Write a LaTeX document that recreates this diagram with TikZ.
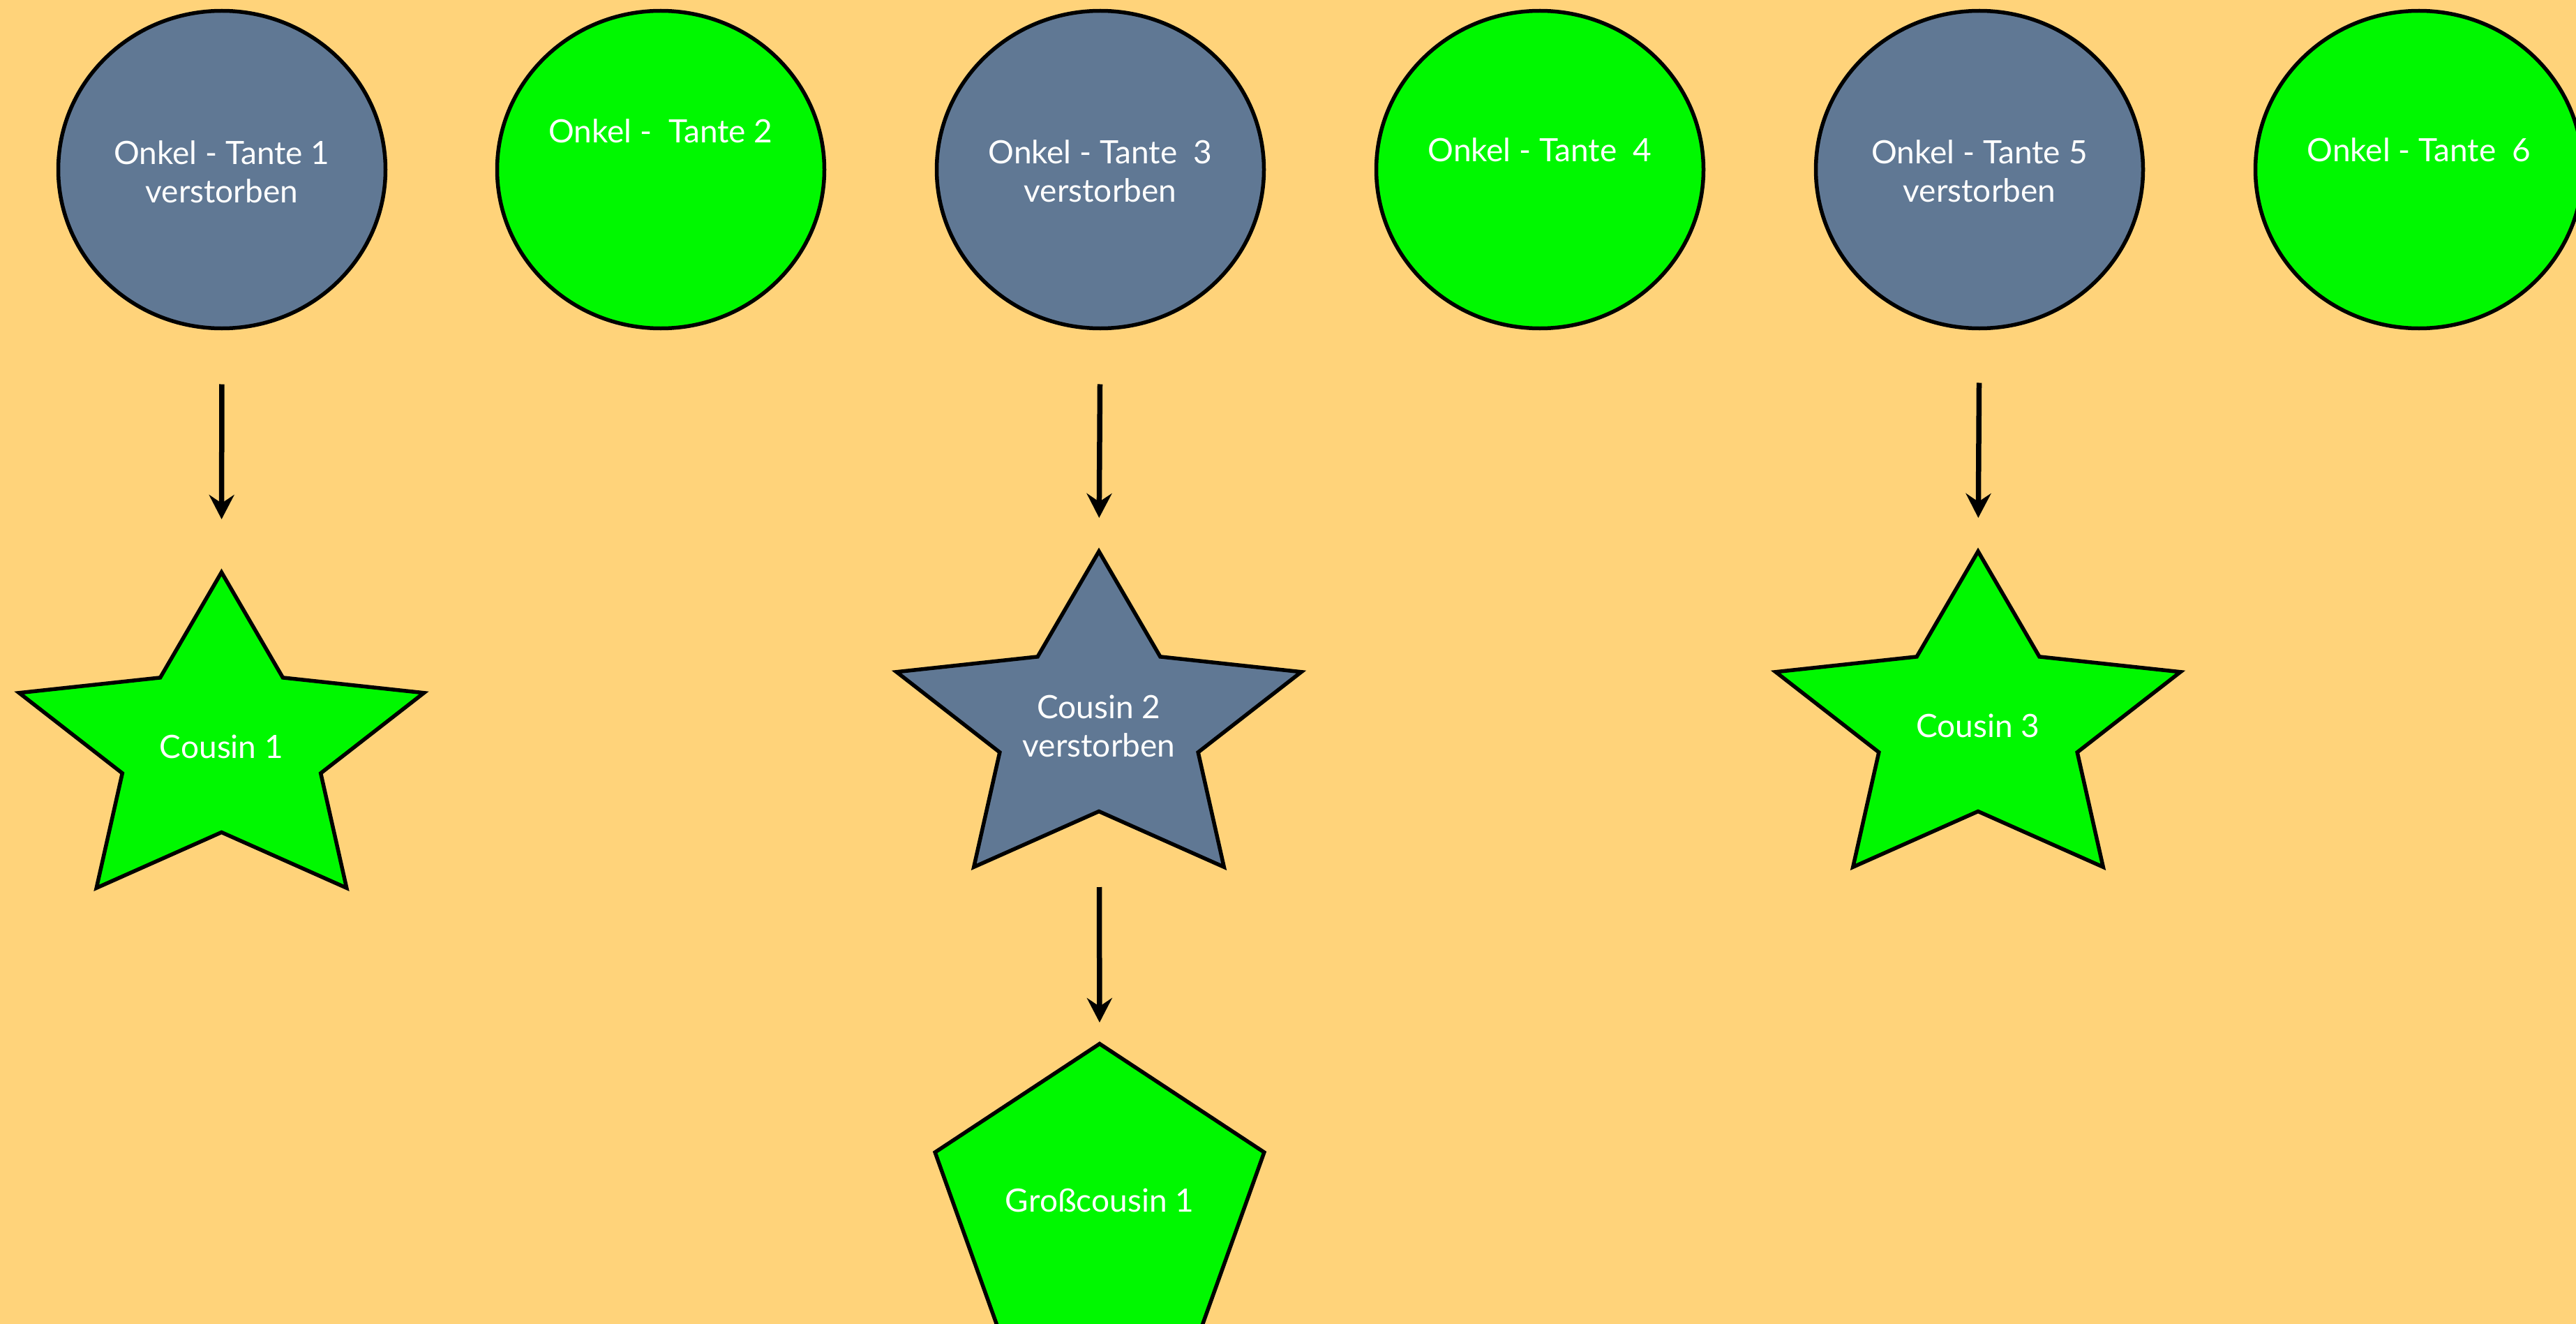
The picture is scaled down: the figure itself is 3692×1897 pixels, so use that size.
\documentclass[tikz,border=0pt]{standalone}
\usepackage{fontspec}
\setmainfont{Lato}
\usetikzlibrary{arrows.meta,shapes.geometric}
\definecolor{bg}{RGB}{255,211,122}
\definecolor{alive}{RGB}{0,248,0}
\definecolor{dead}{RGB}{96,120,148}
\newcommand{\kstar}[3]{%
  \draw[shp,fill=#3] (#1,#2) +(270:305 and 250) -- +(306:149.5 and 122.5)
    -- +(342:305 and 250) -- +(18:149.5 and 122.5)
    -- +(54:305 and 250) -- +(90:149.5 and 122.5)
    -- +(126:305 and 250) -- +(162:149.5 and 122.5)
    -- +(198:305 and 250) -- +(234:149.5 and 122.5) -- cycle;}
\begin{document}
\begin{tikzpicture}[x=1pt,y=-1pt,
  every node/.style={inner sep=0pt, outer sep=0pt},
  person/.style={ellipse, draw=black, line width=5.5pt, minimum width=469pt, minimum height=455pt},
  lbl/.style={text=white, font=\fontsize{46}{55}\selectfont},
  shp/.style={draw=black, line width=5.5pt, line join=miter},
  arr/.style={line width=7.5pt, -{Stealth[length=35pt,width=36pt,inset=12pt]}},
  spot/.style={minimum width=610pt, minimum height=500pt},
  pent/.style={minimum width=496pt, minimum height=450pt}]
\fill[bg] (0,0) rectangle (3692,1897);
\useasboundingbox (0,0) rectangle (3692,1897);
\clip (0,0) rectangle (3692,1897);

% uncles / aunts
\node[person, fill=dead] (c1) at (318,243) {};
\node[lbl, align=center] (t1) at (318,246) {Onkel - Tante 1\\verstorben};
\node[person, fill=alive] (c2) at (947,243) {};
\node[lbl, anchor=base] (t2) at (947,205) {Onkel -\ \ Tante 2};
\node[person, fill=dead] (c3) at (1577,243) {};
\node[lbl, align=center] (t3) at (1577,245) {Onkel - Tante\ \ 3\\verstorben};
\node[person, fill=alive] (c4) at (2207,243) {};
\node[lbl, anchor=base] (t4) at (2207,232) {Onkel - Tante\ \ 4};
\node[person, fill=dead] (c5) at (2837,243) {};
\node[lbl, align=center] (t5) at (2837,245) {Onkel - Tante 5\\verstorben};
\node[person, fill=alive] (c6) at (3467,243) {};
\node[lbl, anchor=base] (t6) at (3467,232) {Onkel - Tante\ \ 6};

% cousins
\kstar{317.5}{1070}{alive}
\kstar{1575}{1040}{dead}
\kstar{2835}{1040}{alive}
\node[spot, lbl] (s1) at (317.5,1070) {Cousin 1};
\node[spot, lbl, align=center] (s2) at (1575,1040) {Cousin 2\\verstorben};
\node[spot, lbl] (s3) at (2835,1040) {Cousin 3};

% second cousin
\draw[shp, fill=alive] (1576,1720.5) +(270:248 and 225) -- +(342:248 and 225)
  -- +(54:248 and 225) -- +(126:248 and 225) -- +(198:248 and 225) -- cycle;
\node[pent, lbl] (p1) at (1576,1720) {Großcousin 1};

% connectors
\draw[arr, shorten <=80pt, shorten >=76pt] (c1.south) -- (s1.north);
\draw[arr, shorten <=80pt, shorten >=48pt] (c3.south) -- (s2.north);
\draw[arr, shorten <=78pt, shorten >=48pt] (c5.south) -- (s3.north);
\draw[arr, shorten <=231pt, shorten >=30pt] (s2.center) -- (p1.north);
\end{tikzpicture}
\end{document}
